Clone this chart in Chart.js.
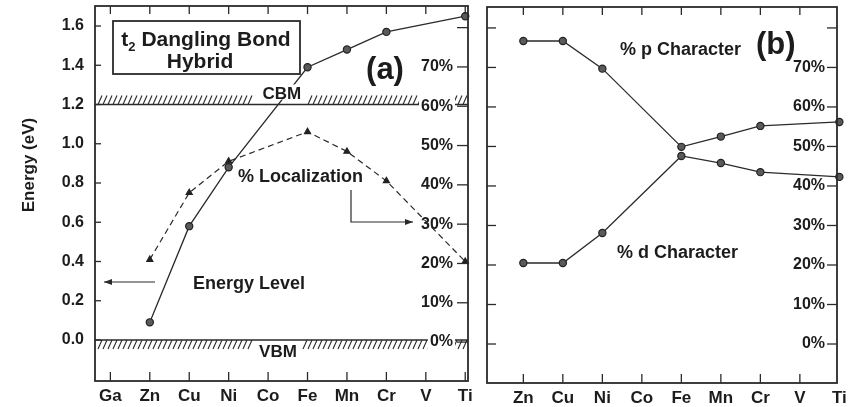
<!DOCTYPE html>
<html>
<head>
<meta charset="utf-8">
<script src="https://cdn.jsdelivr.net/npm/chart.js@4.4.1/dist/chart.umd.min.js"></script>
<style>
  html, body { margin: 0; padding: 0; background: #fff; }
  #wrap { position: relative; width: 848px; height: 407px; overflow: hidden; }
  #ca { position: absolute; left: 0; top: 0; }
  #cb { position: absolute; left: 478px; top: 0; }
</style>
</head>
<body>
<div id="wrap">
  <canvas id="ca" width="478" height="407"></canvas>
  <canvas id="cb" width="370" height="407"></canvas>
</div>
<script>
// Impurity sequences along the two bottom axes
const elementsA = ['Ga', 'Zn', 'Cu', 'Ni', 'Co', 'Fe', 'Mn', 'Cr', 'V', 'Ti'];
const elementsB = ['Zn', 'Cu', 'Ni', 'Co', 'Fe', 'Mn', 'Cr', 'V', 'Ti'];

// (a) t2 dangling-bond hybrid: level position (eV) and localization (%)
const energyLevel  = [null, 0.09, 0.58, 0.88, null, 1.39, 1.48, 1.57, null, 1.65];
const localization = [null, 21,   38,   46,   null, 53.5, 48.5, 41,   null, 20.5];

// (b) orbital character of the hybrid (%)
const pCharacter = [76.7, 76.7, 69.7, null, 49.9, 52.5, 55.2, null, 56.2];
const dCharacter = [20.5, 20.5, 28.1, null, 47.6, 45.8, 43.5, null, 42.3];

// Tick labels
const energyTicks  = ['0.0', '0.2', '0.4', '0.6', '0.8', '1.0', '1.2', '1.4', '1.6'];
const percentTicks = ['0%', '10%', '20%', '30%', '40%', '50%', '60%', '70%'];
const percentMarks = [0, 10, 20, 30, 40, 50, 60, 70, 80];

// Band edges (eV)
const cbmEnergy = 1.2;
const vbmEnergy = 0.0;

const FONT = "'Liberation Sans', Arial, Helvetica, sans-serif";
const INK = '#1c1c1c';
const LINE = '#2a2a2a';
const bold = s => ({ family: FONT, size: s, weight: 'bold' });
const toPoints = arr => arr.map((v, i) => (v == null ? null : { x: i, y: v })).filter(p => p);

// fixed scale box sizes so the plot frames sit where intended
const fixWidth = w => s => { s.width = w; s.paddingTop = 0; s.paddingBottom = 0; };
const fixHeight = h => s => { s.height = h; s.paddingLeft = 0; s.paddingRight = 0; };

function seg(ctx, x1, y1, x2, y2) {
  ctx.beginPath(); ctx.moveTo(x1, y1); ctx.lineTo(x2, y2); ctx.stroke();
}

function arrow(ctx, pts, head = 8, half = 3) {
  ctx.beginPath();
  ctx.moveTo(pts[0][0], pts[0][1]);
  for (let i = 1; i < pts.length; i++) ctx.lineTo(pts[i][0], pts[i][1]);
  ctx.stroke();
  const [x1, y1] = pts[pts.length - 2];
  const [x2, y2] = pts[pts.length - 1];
  const a = Math.atan2(y2 - y1, x2 - x1);
  const c = Math.cos(a), s = Math.sin(a);
  ctx.beginPath();
  ctx.moveTo(x2, y2);
  ctx.lineTo(x2 - head * c + half * s, y2 - head * s - half * c);
  ctx.lineTo(x2 - head * c - half * s, y2 - head * s + half * c);
  ctx.closePath();
  ctx.fill();
}

// Frame round the plot area with short inward tick marks on all four sides
const frameTicks = {
  id: 'frameTicks',
  afterDraw(chart, args, o) {
    const { ctx, chartArea: a, scales } = chart;
    ctx.save();
    ctx.strokeStyle = LINE;
    ctx.lineWidth = 1.3;
    o.xValues.forEach(v => {
      const px = scales.x.getPixelForValue(v);
      if (px < a.left + 2 || px > a.right - 2) return;
      seg(ctx, px, a.bottom, px, a.bottom - o.bottomLen);
      seg(ctx, px, a.top, px, a.top + o.topLen);
    });
    o.leftValues.forEach(v => {
      const py = scales[o.leftScale].getPixelForValue(v);
      seg(ctx, a.left, py, a.left + o.leftLen, py);
    });
    o.rightValues.forEach(v => {
      const py = scales[o.rightScale].getPixelForValue(v);
      seg(ctx, a.right, py, a.right - o.rightLen, py);
    });
    ctx.lineWidth = 1.8;
    ctx.strokeRect(a.left, a.top, a.right - a.left, a.bottom - a.top);
    ctx.restore();
  }
};

// Hatched band edges (CBM above, VBM below)
const bandFont = `bold 17px ${FONT}`;
function bandLabelBox(ctx, text, cx) {
  ctx.font = bandFont;
  const w = ctx.measureText(text).width;
  return { x0: cx - w / 2 - 6, x1: cx + w / 2 + 6, w };
}

const bandEdges = {
  id: 'bandEdges',
  beforeDraw(chart) {
    const { ctx, chartArea: a, scales: { x, y } } = chart;
    ctx.save();
    ctx.strokeStyle = LINE;
    const edges = [
      { e: cbmEnergy, up: true,  text: 'CBM', cx: x.getPixelForValue(4.35) },
      { e: vbmEnergy, up: false, text: 'VBM', cx: x.getPixelForValue(4.25) }
    ];
    edges.forEach(b => {
      const py = y.getPixelForValue(b.e);
      const gap = bandLabelBox(ctx, b.text, b.cx);
      ctx.lineWidth = 1.5;
      seg(ctx, a.left, py, a.right, py);
      ctx.lineWidth = 1.1;
      for (let px = a.left + 3; px < a.right - 4; px += 5) {
        if (px + 4 > gap.x0 && px < gap.x1) continue;
        if (b.up) seg(ctx, px, py, px + 4, py - 9);
        else seg(ctx, px, py + 9, px + 4, py);
      }
    });
    ctx.restore();
  }
};

// Text labels, title box and arrows of panel (a)
const notesA = {
  id: 'notesA',
  afterDatasetsDraw(chart) {
    const { ctx, scales: { x, y } } = chart;
    ctx.save();
    ctx.fillStyle = INK;
    ctx.strokeStyle = LINE;

    // band-edge labels on a white backdrop
    [['CBM', x.getPixelForValue(4.35), y.getPixelForValue(cbmEnergy) - 6],
     ['VBM', x.getPixelForValue(4.25), y.getPixelForValue(vbmEnergy) + 17]].forEach(([t, cx, base]) => {
      ctx.font = bandFont;
      const w = ctx.measureText(t).width;
      ctx.fillStyle = '#fff';
      ctx.fillRect(cx - w / 2 - 3, base - 14, w + 6, 15);
      ctx.fillStyle = INK;
      ctx.textAlign = 'center';
      ctx.textBaseline = 'alphabetic';
      ctx.fillText(t, cx, base);
    });

    // title box
    ctx.fillStyle = '#fff';
    ctx.fillRect(113, 21, 187, 53);
    ctx.lineWidth = 1.8;
    ctx.strokeRect(113, 21, 187, 53);
    ctx.fillStyle = INK;
    ctx.textAlign = 'left';
    ctx.font = `bold 21px ${FONT}`;
    const rest = ' Dangling Bond';
    const wt = ctx.measureText('t').width;
    const wr = ctx.measureText(rest).width;
    ctx.font = `bold 13px ${FONT}`;
    const ws = ctx.measureText('2').width;
    const x0 = 206 - (wt + ws + wr) / 2;
    ctx.font = `bold 21px ${FONT}`;
    ctx.fillText('t', x0, 46);
    ctx.font = `bold 13px ${FONT}`;
    ctx.fillText('2', x0 + wt, 51);
    ctx.font = `bold 21px ${FONT}`;
    ctx.fillText(rest, x0 + wt + ws, 46);
    ctx.textAlign = 'center';
    ctx.fillText('Hybrid', 200, 68);

    // panel tag
    ctx.font = `bold 31px ${FONT}`;
    ctx.fillText('(a)', 385, 79);

    // curve labels
    ctx.font = `bold 18px ${FONT}`;
    ctx.textAlign = 'left';
    ctx.fillText('% Localization', 238, 182);
    ctx.fillText('Energy Level', 193, 289);

    // arrows pointing to the axis each curve is read on
    ctx.lineWidth = 1.2;
    ctx.fillStyle = LINE;
    arrow(ctx, [[155, 282], [104, 282]]);
    arrow(ctx, [[351, 190], [351, 222], [413, 222]]);

    // axis title
    ctx.fillStyle = INK;
    ctx.font = `bold 17px ${FONT}`;
    ctx.translate(29, 165);
    ctx.rotate(-Math.PI / 2);
    ctx.textAlign = 'center';
    ctx.textBaseline = 'middle';
    ctx.fillText('Energy (eV)', 0, 0);
    ctx.restore();
  }
};

const notesB = {
  id: 'notesB',
  afterDatasetsDraw(chart) {
    const { ctx } = chart;
    ctx.save();
    ctx.fillStyle = INK;
    ctx.textAlign = 'left';
    ctx.font = `bold 18px ${FONT}`;
    ctx.fillText('% p Character', 142, 55);
    ctx.fillText('% d Character', 139, 258);
    ctx.font = `bold 31px ${FONT}`;
    ctx.fillText('(b)', 278, 54);
    ctx.restore();
  }
};

const tickFont = bold(16);
const catFont = bold(17);
const baseOpts = {
  responsive: false,
  animation: false,
  events: [],
  plugins: { legend: { display: false }, tooltip: { enabled: false } }
};

const markerStyle = {
  borderColor: LINE, borderWidth: 1.3, tension: 0, fill: false, clip: false,
  pointRadius: 3.6, pointBackgroundColor: '#5a5a5a', pointBorderColor: '#222', pointBorderWidth: 1.2
};

// Panel (a)
new Chart(document.getElementById('ca'), {
  type: 'line',
  data: {
    datasets: [
      Object.assign({ label: 'Energy Level', data: toPoints(energyLevel), yAxisID: 'y' }, markerStyle),
      { label: '% Localization', data: toPoints(localization), yAxisID: 'y2',
        borderColor: LINE, borderWidth: 1.2, borderDash: [6, 4], tension: 0, fill: false, clip: false,
        pointStyle: 'triangle', pointRadius: 3.5, pointBackgroundColor: '#222', pointBorderColor: '#222' }
    ]
  },
  options: Object.assign({}, baseOpts, {
    layout: { padding: { left: 0, right: 0, top: 6, bottom: 0 } },
    plugins: Object.assign({}, baseOpts.plugins, {
      frameTicks: {
        xValues: elementsA.map((_, i) => i), topLen: 8, bottomLen: 9,
        leftScale: 'y', leftValues: energyTicks.map(Number), leftLen: 6,
        rightScale: 'y2', rightValues: percentMarks, rightLen: 11
      }
    }),
    scales: {
      x: {
        type: 'linear', min: -0.39, max: 9.07,
        grid: { display: false, drawTicks: false }, border: { display: false },
        afterBuildTicks: s => { s.ticks = elementsA.map((_, i) => ({ value: i })); },
        afterFit: fixHeight(26),
        ticks: { autoSkip: false, maxRotation: 0, padding: 5, color: INK, font: catFont,
                 callback: (v, i) => elementsA[i] }
      },
      y: {
        type: 'linear', position: 'left', min: -0.209, max: 1.702,
        grid: { display: false, drawTicks: false }, border: { display: false },
        afterBuildTicks: s => { s.ticks = energyTicks.map(t => ({ value: Number(t) })); },
        afterFit: fixWidth(95),
        ticks: { autoSkip: false, padding: 11, color: INK, font: tickFont,
                 callback: (v, i) => energyTicks[i] }
      },
      y2: {
        type: 'linear', position: 'right', min: -9.9, max: 85.5,
        grid: { display: false, drawTicks: false }, border: { display: false },
        afterBuildTicks: s => { s.ticks = percentTicks.map(t => ({ value: parseFloat(t) })); },
        afterFit: fixWidth(10),
        ticks: { autoSkip: false, mirror: true, padding: -15, color: INK, font: tickFont,
                 showLabelBackdrop: true, backdropColor: '#fff', backdropPadding: 2,
                 callback: (v, i) => percentTicks[i] }
      }
    }
  }),
  plugins: [bandEdges, notesA, frameTicks]
});

// Panel (b)
new Chart(document.getElementById('cb'), {
  type: 'line',
  data: {
    datasets: [
      Object.assign({ label: '% p Character', data: toPoints(pCharacter) }, markerStyle),
      Object.assign({ label: '% d Character', data: toPoints(dCharacter) }, markerStyle)
    ]
  },
  options: Object.assign({}, baseOpts, {
    layout: { padding: { left: 9, right: 0, top: 7, bottom: 0 } },
    plugins: Object.assign({}, baseOpts.plugins, {
      frameTicks: {
        xValues: elementsB.map((_, i) => i), topLen: 8, bottomLen: 9,
        leftScale: 'y', leftValues: percentMarks, leftLen: 9,
        rightScale: 'y', rightValues: percentMarks, rightLen: 10
      }
    }),
    scales: {
      x: {
        type: 'linear', min: -0.92, max: 7.94,
        grid: { display: false, drawTicks: false }, border: { display: false },
        afterBuildTicks: s => { s.ticks = elementsB.map((_, i) => ({ value: i })); },
        afterFit: fixHeight(24),
        ticks: { autoSkip: false, maxRotation: 0, padding: 5, color: INK, font: catFont,
                 callback: (v, i) => elementsB[i] }
      },
      y: {
        type: 'linear', position: 'right', min: -9.87, max: 85.3,
        grid: { display: false, drawTicks: false }, border: { display: false },
        afterBuildTicks: s => { s.ticks = percentTicks.map(t => ({ value: parseFloat(t) })); },
        afterFit: fixWidth(11),
        ticks: { autoSkip: false, mirror: true, padding: -12, color: INK, font: tickFont,
                 callback: (v, i) => percentTicks[i] }
      }
    }
  }),
  plugins: [notesB, frameTicks]
});
</script>
</body>
</html>
